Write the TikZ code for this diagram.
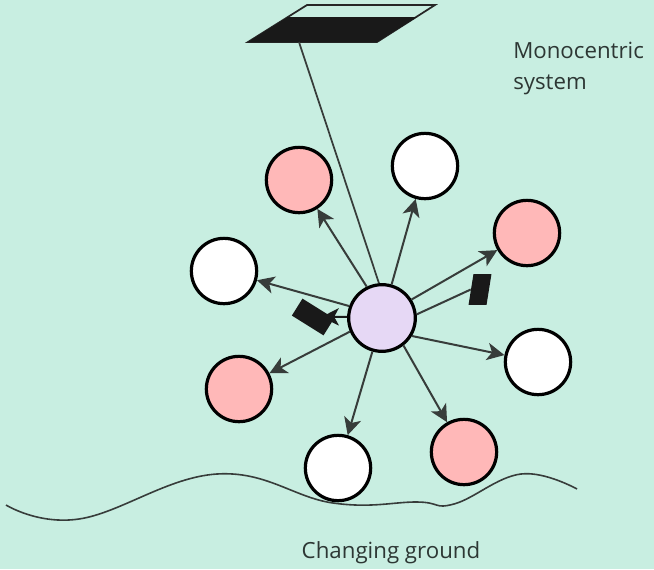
\documentclass[tikz,border=0pt]{standalone}
\usepackage{fontspec}
\setmainfont{Open Sans}
\usetikzlibrary{arrows.meta}

\definecolor{mint}{RGB}{200,238,225}
\definecolor{rose}{RGB}{255,184,184}
\definecolor{lilac}{RGB}{230,216,245}
\definecolor{ink}{RGB}{55,60,58}
\definecolor{textgrey}{RGB}{45,55,52}

\tikzset{
  ball/.style={circle, draw=black, line width=2.4pt, minimum size=49pt, inner sep=0pt},
  pinkball/.style={ball, fill=rose},
  whiteball/.style={ball, fill=white},
  spoke/.style={draw=ink, line width=1.5pt, -{Stealth[length=13pt,width=13pt,inset=3.5pt]}},
  txt/.style={font=\fontsize{16.7}{23.5}\selectfont, text=textgrey, inner sep=0pt}
}

\begin{document}
\begin{tikzpicture}[x=0.75pt,y=0.75pt,yscale=-1,xscale=1]
\useasboundingbox (0,0) rectangle (654,569);
\fill[mint] (0,0) rectangle (654,569);

%Shape: Parallelogram (sky plane)
\draw[black!85, line width=1.3pt] (248,42) -- (377,42) -- (435,5) -- (307,5) -- cycle;
\fill[black!90] (248,42) -- (377,42) -- (417,17) -- (288,17) -- cycle;
\coordinate (mast) at (299,42);

%Shape: Wave (ground)
\draw[ink, line width=1.2pt] plot[smooth, tension=0.7] coordinates {(6,505) (79,519) (217,474) (333,503) (417,502) (454,504) (521,474) (577,489)};

%Shape: Circles
\node[ball, fill=lilac, minimum size=50pt] (hub) at (382,318) {};
\node[pinkball] (pnw) at (299,180) {};
\node[whiteball] (wn) at (425,166) {};
\node[pinkball] (pne) at (527,233) {};
\node[whiteball] (ww) at (224,271) {};
\node[whiteball] (we) at (538,362) {};
\node[pinkball] (psw) at (239,389) {};
\node[whiteball] (ws) at (338,468) {};
\node[pinkball] (pse) at (464,452) {};

%Shape: small black blocks
\node[fill=black!90, rotate=-32, minimum width=28pt, minimum height=15pt, inner sep=0pt] (cam) at (313,317) {};
\node[fill=black!90, xslant=0.16, minimum width=13.5pt, minimum height=23pt, inner sep=0pt] (plate) at (480,289.5) {};

%Straight Lines: spokes
\draw[spoke] (hub.116) -- (pnw);
\draw[spoke] (hub.74) -- (wn);
\draw[spoke] (hub.32) -- (pne);
\draw[spoke] (hub.160) -- (ww);
\draw[spoke] (hub.-31) -- (we);
\draw[spoke] (hub.-52) -- (pse);
\draw[spoke] (hub.-106) -- (ws);
\draw[spoke] (hub.203) -- (psw);
\draw[spoke, draw=black!90, shorten >=-8pt] (hub.178) -- (cam);
\draw[ink, line width=1.5pt] (hub.6) -- (plate.west);
\draw[ink, line width=1.3pt] (hub.95) -- (mast);

% Text Node
\node[txt, anchor=north west, align=left] (title) at (513,42) {Monocentric\\system};
% Text Node
\node[txt, anchor=base] (ground) at (391,558) {Changing ground};

\end{tikzpicture}
\end{document}
